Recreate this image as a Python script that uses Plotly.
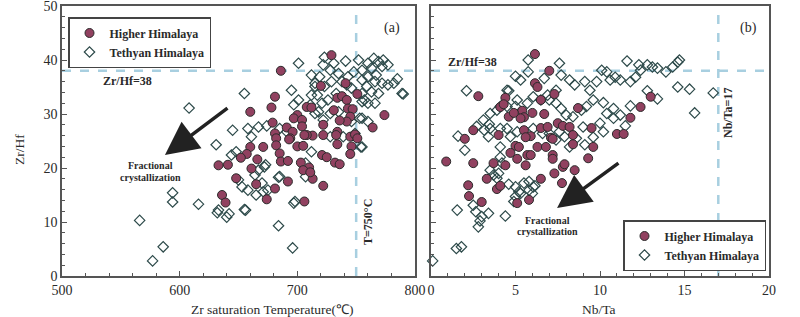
import plotly.graph_objects as go

# ---------------- data: panel (a) Zr saturation temperature vs Zr/Hf ----------------
hh_a_temp = [729, 686, 720, 741, 751, 681, 734, 738, 742, 660, 678, 708, 712, 731, 743, 747, 774,
             700, 697, 704, 722, 745, 742, 736, 679, 691, 764, 696, 734, 704, 681, 713, 708, 745,
             749, 751, 722, 694, 682, 706, 733, 660, 671, 682, 700, 705, 734, 746, 693, 657, 685,
             652, 666, 686, 692, 721, 725, 732, 736, 745, 703, 710, 705, 713, 711, 722, 641, 633,
             648, 661, 665, 674, 681, 692, 706, 636, 639]
hh_a_zrhf = [40.9, 38.0, 35.2, 35.7, 33.7, 33.2, 33.0, 33.3, 32.6, 30.4, 31.2, 31.3, 31.2, 30.7, 31.0, 30.9, 29.8,
             29.8, 29.2, 28.9, 28.0, 29.5, 28.6, 28.8, 28.4, 27.5, 27.5, 26.7, 26.7, 27.7, 26.4, 26.0, 26.1, 25.8,
             26.2, 25.5, 26.1, 25.5, 25.5, 26.1, 26.1, 23.9, 23.9, 24.2, 24.0, 24.1, 24.4, 24.0, 25.3, 22.6, 22.7,
             21.9, 21.6, 21.2, 21.3, 22.4, 22.0, 21.0, 20.7, 22.6, 21.0, 20.1, 19.6, 18.0, 19.2, 16.7, 20.6, 20.5,
             18.1, 19.9, 17.0, 14.2, 16.2, 17.5, 13.8, 15.0, 13.6]

th_a_temp = [701, 723, 722, 731, 728, 752, 760, 765, 769, 773, 777, 772, 763, 755, 748,
             712, 715, 719, 735, 743, 755, 760, 766, 772, 777, 782, 759, 763, 769, 755, 746, 742, 738,
             729, 723, 715, 712, 701, 695, 711, 721, 726, 733, 735, 755, 760, 766, 789, 728, 715, 722,
             746, 755, 760, 697, 655, 645, 658, 667, 674, 685, 691, 661, 631, 648, 644, 673, 667, 664,
             650, 653, 658, 670, 671, 665, 675, 685, 707, 712, 728, 739, 749, 755, 698, 656, 633, 707,
             608, 566, 577, 586, 594, 594, 616, 632, 642, 640, 655, 684, 696, 697, 684, 672, 790, 757,
             753, 754, 717, 718, 741, 785, 767]
th_a_zrhf = [39.4, 40.5, 39.1, 39.4, 38.1, 40.0, 39.4, 40.3, 39.7, 40.0, 39.1, 38.8, 38.5, 38.1, 37.8,
             37.2, 35.7, 36.9, 37.5, 36.9, 36.3, 36.9, 36.0, 35.7, 35.4, 35.7, 35.1, 34.1, 33.8, 33.8, 34.8, 35.4, 36.0,
             36.0, 35.1, 35.1, 33.5, 32.6, 34.4, 31.7, 32.0, 32.6, 33.8, 30.4, 32.3, 32.0, 32.0, 33.8, 30.1, 30.1, 28.9,
             28.6, 29.2, 28.6, 31.7, 33.8, 27.0, 27.3, 27.6, 27.8, 27.3, 26.7, 25.8, 24.3, 23.0, 22.4, 20.6, 19.6, 18.7,
             17.8, 16.5, 15.9, 17.2, 15.6, 15.0, 15.9, 18.4, 18.4, 23.0, 25.8, 25.8, 26.4, 23.9, 13.8, 12.2, 12.2, 20.9,
             31.1, 10.3, 2.8, 5.4, 15.4, 13.7, 13.3, 11.7, 11.5, 10.9, 12.3, 9.3, 5.2, 13.5, 18.3, 20.2, 33.7, 32.6,
             29.2, 23.9, 33.5, 30.4, 39.8, 36.5, 37.2]

# ---------------- data: panel (b) Nb/Ta vs Zr/Hf ----------------
hh_b_nbta = [6.15, 7.0, 6.15, 6.3, 2.8, 4.4, 4.1, 4.3, 7.3, 6.5, 13.0, 12.4, 11.8, 8.7, 5.4, 5.5, 6.0, 5.3,
             4.6, 4.9, 6.7, 7.5, 7.8, 8.2, 9.5, 11.0, 11.4, 2.5, 2.0, 4.0, 5.5, 5.9, 5.6, 6.5, 6.9, 7.1, 7.2,
             8.4, 8.4, 5.0, 5.2, 6.3, 6.8, 9.6, 4.7, 5.7, 5.1, 7.2, 7.2, 9.3, 0.9, 2.5, 2.2, 2.25, 3.0, 3.3,
             3.7, 4.4, 3.9, 4.1, 5.9, 5.6, 7.3, 7.8, 7.9, 8.5, 7.75, 6.5, 5.8, 5.1]
hh_b_zrhf = [41.1, 38.0, 35.7, 35.0, 33.3, 33.0, 31.3, 31.8, 33.7, 32.6, 33.2, 31.3, 29.3, 31.1, 30.6, 29.4, 30.2, 29.2,
             29.5, 30.2, 30.0, 28.3, 27.8, 27.6, 27.4, 26.3, 26.3, 27.0, 25.4, 26.1, 27.0, 25.9, 25.7, 27.4, 27.6, 25.6, 25.4,
             26.1, 24.4, 24.1, 23.9, 23.9, 23.9, 23.9, 22.8, 22.4, 21.7, 22.4, 21.7, 21.8, 21.2, 20.9, 16.8, 14.8, 13.7, 18.0,
             20.9, 20.5, 16.1, 16.7, 22.4, 20.5, 19.0, 20.2, 20.7, 19.6, 17.2, 18.0, 14.1, 13.5]

th_b_nbta = [5.75, 7.6, 5.75, 5.0, 5.3, 6.7, 7.7, 2.1, 4.5, 8.2, 8.5, 9.1, 9.4, 9.8, 10.1, 10.4, 10.6, 10.9,
             11.2, 11.6, 11.8, 12.1, 12.3, 12.4, 12.8, 13.1, 13.4, 13.9, 14.3, 14.6, 14.7, 14.6, 15.3, 15.6,
             16.7, 12.8, 13.4, 11.8, 11.5, 10.0, 10.2, 9.6, 9.1, 10.8, 11.2, 10.4, 10.8, 10.2, 9.6, 9.2, 8.9,
             8.4, 8.0, 7.7, 7.4, 7.0, 7.4, 6.9, 6.5, 6.05, 5.7, 5.1, 5.0, 4.5, 4.1, 3.9, 3.5, 3.1, 2.7, 3.5,
             3.4, 4.1, 4.5, 1.6, 2.0, 4.1, 4.7, 5.1, 6.05, 6.6, 7.0, 7.6, 7.9, 7.4, 8.2, 8.6, 9.0, 4.1, 4.2,
             3.5, 3.7, 4.0, 3.9, 4.6, 5.0, 5.5, 5.8, 6.05, 5.8, 5.2, 5.0, 5.3, 6.0, 4.9, 6.15, 1.55, 2.5,
             2.65, 3.0, 2.9, 3.4, 2.8, 4.4, 1.5, 1.8, 0.1, 4.6, 3.45, 3.15]
th_b_zrhf = [40.0, 39.4, 37.8, 37.0, 36.3, 36.6, 37.2, 34.3, 34.4, 36.3, 35.4, 36.0, 34.4, 36.0, 38.1, 37.8, 36.3, 36.8,
             36.3, 39.8, 36.0, 36.8, 39.1, 38.1, 39.1, 38.7, 38.5, 37.8, 38.7, 39.6, 40.0, 35.0, 34.6, 30.2,
             33.9, 34.3, 32.8, 31.5, 27.8, 28.3, 26.7, 25.7, 24.3, 29.2, 29.8, 30.1, 31.0, 32.1, 32.6, 31.4, 30.7,
             29.5, 29.8, 31.0, 32.0, 32.6, 34.4, 33.5, 32.6, 33.2, 32.0, 32.6, 31.4, 31.4, 31.4, 30.7, 30.1, 28.9, 27.7, 27.3,
             25.8, 27.3, 27.3, 25.9, 23.3, 23.9, 25.8, 26.7, 27.3, 26.4, 26.4, 26.7, 25.8, 25.2, 23.9, 25.5, 27.6, 22.0, 20.9,
             19.6, 18.7, 19.0, 18.1, 17.0, 16.5, 17.2, 17.5, 16.5, 15.9, 15.6, 14.7, 15.3, 15.3, 13.8, 16.7, 12.2, 13.1,
             11.9, 11.0, 10.2, 11.6, 9.1, 11.1, 5.1, 5.4, 2.8, 34.3, 28.1, 27.0]

series_names = ["Higher Himalaya", "Tethyan Himalaya"]
ref_zrhf = 38
ref_temp = 750
ref_nbta = 17

# ---------------- styling ----------------
SERIF = "Liberation Serif"
AXIS_COL = "#555555"
TXT_COL = "#2a2a2a"
DASH_COL = "#a8cfe0"
CIRCLE = dict(symbol="circle", size=9, color="#914160", line=dict(color="#2b2b2b", width=1))
DIAMOND = dict(symbol="diamond-open", size=8, color="#2d4a4a", line=dict(width=1.2))

fig = go.Figure()

def add_panel(xs_h, ys_h, xs_t, ys_t, xa, ya, legend):
    fig.add_trace(go.Scatter(x=xs_t, y=ys_t, mode="markers", marker=DIAMOND,
                             name="<b>%s</b>" % series_names[1], xaxis=xa, yaxis=ya,
                             legend=legend, legendrank=2, cliponaxis=False))
    fig.add_trace(go.Scatter(x=xs_h, y=ys_h, mode="markers", marker=CIRCLE,
                             name="<b>%s</b>" % series_names[0], xaxis=xa, yaxis=ya,
                             legend=legend, legendrank=1, cliponaxis=False))

add_panel(hh_a_temp, hh_a_zrhf, th_a_temp, th_a_zrhf, "x", "y", "legend")
add_panel(hh_b_nbta, hh_b_zrhf, th_b_nbta, th_b_zrhf, "x2", "y2", "legend2")

W, H = 800, 317
ydom = [(H - 276) / H, (H - 6) / H]
axis_common = dict(showline=True, linecolor=AXIS_COL, linewidth=1.6, mirror=True,
                   ticks="inside", ticklen=5, tickcolor=AXIS_COL, tickwidth=1,
                   showgrid=False, zeroline=False, automargin=False,
                   ticklabeloverflow="allow",
                   tickfont=dict(family=SERIF, size=14, color=TXT_COL))

leg_common = dict(xanchor="left", yanchor="top", bgcolor="white", bordercolor="#444",
                  borderwidth=1.5, font=dict(family=SERIF, size=12, color=TXT_COL),
                  tracegroupgap=0, traceorder="normal", itemwidth=30,
                  xref="paper", yref="paper")

fig.update_layout(
    width=W, height=H, margin=dict(l=0, r=0, t=0, b=0, autoexpand=False),
    paper_bgcolor="white", plot_bgcolor="white",
    font=dict(family=SERIF, color=TXT_COL),
    xaxis=dict(domain=[62 / W, 415 / W], range=[500, 800], dtick=100, anchor="y",
               minor=dict(ticks="inside", dtick=20, ticklen=3, tickcolor=AXIS_COL), **axis_common),
    yaxis=dict(domain=ydom, range=[0, 50], dtick=10, anchor="x",
               minor=dict(ticks="inside", dtick=2, ticklen=3, tickcolor=AXIS_COL), **axis_common),
    xaxis2=dict(domain=[431 / W, 769 / W], range=[0, 20], dtick=5, anchor="y2",
                minor=dict(ticks="inside", dtick=1, ticklen=3, tickcolor=AXIS_COL), **axis_common),
    yaxis2=dict(domain=ydom, range=[0, 50], dtick=10, anchor="x2", showticklabels=False,
                minor=dict(ticks="inside", dtick=2, ticklen=3, tickcolor=AXIS_COL), **axis_common),
    legend=dict(x=68 / W, y=1 - 17 / H, **leg_common),
    legend2=dict(x=623 / W, y=1 - 220 / H, **leg_common),
    showlegend=True,
)

# reference dashed lines
dash_line = dict(color=DASH_COL, width=2.5, dash="dash")
fig.add_shape(type="line", xref="x domain", yref="y", x0=0, x1=1, y0=ref_zrhf, y1=ref_zrhf, line=dash_line, layer="below")
fig.add_shape(type="line", xref="x", yref="y domain", x0=ref_temp, x1=ref_temp, y0=0, y1=1, line=dash_line, layer="below")
fig.add_shape(type="line", xref="x2 domain", yref="y2", x0=0, x1=1, y0=ref_zrhf, y1=ref_zrhf, line=dash_line, layer="below")
fig.add_shape(type="line", xref="x2", yref="y2 domain", x0=ref_nbta, x1=ref_nbta, y0=0, y1=1, line=dash_line, layer="below")

def txt(x, y, s, size=12, bold=True, angle=0, xref="paper", yref="paper"):
    fig.add_annotation(x=x, y=y, xref=xref, yref=yref, text=("<b>%s</b>" % s) if bold else s,
                       showarrow=False, textangle=angle, xanchor="center", yanchor="middle",
                       font=dict(family=SERIF, size=size, color=TXT_COL))

def px(xp, yp):
    return xp / W, 1 - yp / H

# axis titles
txt(*px(272, 309), "Zr saturation Temperature(℃)", size=13.5, bold=False)
txt(*px(599, 309), "Nb/Ta", size=13.5, bold=False)
txt(*px(20, 150), "Zr/Hf", size=13.5, bold=False, angle=-90)

# panel labels and reference-line labels
txt(*px(392, 28), "(a)", size=14, bold=False)
txt(*px(748, 28), "(b)", size=14, bold=False)
txt(*px(127, 81), "Zr/Hf=38", size=12)
txt(*px(472, 62), "Zr/Hf=38", size=12)
txt(*px(368, 222), "T=750°C", size=12, angle=-90)
txt(*px(728, 113), "Nb/Ta=17", size=12, angle=-90)
txt(*px(150, 165), "Fractional", size=10)
txt(*px(150, 177), "crystallization", size=10)
txt(*px(547, 220), "Fractional", size=10)
txt(*px(547, 231), "crystallization", size=10)

# fractional crystallization arrows (tip, tail in data coordinates)
arrow_a = dict(tip=(587.5, 22.4), tail=(641.9, 31.3))
arrow_b = dict(tip=(7.46, 12.6), tail=(11.18, 21.1))
for arr, xr, yr in [(arr_a, "x", "y") for arr_a in [arrow_a]] + [(arrow_b, "x2", "y2")]:
    fig.add_annotation(x=arr["tip"][0], y=arr["tip"][1], ax=arr["tail"][0], ay=arr["tail"][1],
                       xref=xr, yref=yr, axref=xr, ayref=yr, text="", showarrow=True,
                       arrowhead=2, arrowsize=1.9, arrowwidth=3.5, arrowcolor="#222222")

fig.write_html("out.html", config={"displayModeBar": False},
               post_script="document.body.style.margin='0px';")
